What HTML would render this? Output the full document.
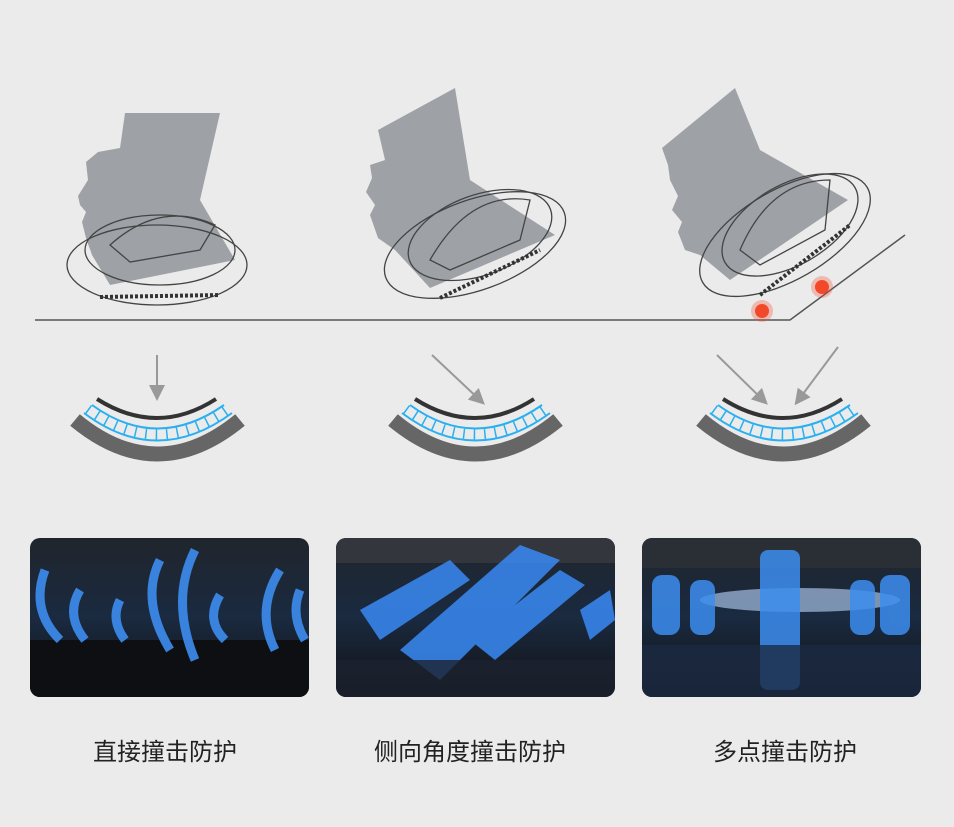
<!DOCTYPE html>
<html><head><meta charset="utf-8"><style>
body{margin:0;background:#ebebeb;width:954px;height:827px;overflow:hidden;font-family:"Liberation Sans","Noto Sans CJK SC",sans-serif}
.l{position:absolute;top:732px;font-size:24px;color:#222;text-align:center;width:300px}
</style></head><body>
<svg width="954" height="827" style="position:absolute;left:0;top:0">
<defs>
<g id="band">
<path d="M75,420 Q157,488 240,420" stroke="#666" stroke-width="15" fill="none"/>
<path d="M88,409 Q157,460 228,409" stroke="#2ab0f0" stroke-width="10" fill="none" stroke-dasharray="1.5 9"/>
<path d="M84,413 Q157,468 232,413" stroke="#2ab0f0" stroke-width="2" fill="none"/>
<path d="M92,405 Q157,452 224,405" stroke="#2ab0f0" stroke-width="2" fill="none"/>
<path d="M97,399 Q157,437 216,399" stroke="#333" stroke-width="4" fill="none"/>
</g>
<marker id="ar" markerWidth="8" markerHeight="8" refX="6" refY="4" orient="auto"><path d="M0,0 L8,4 L0,8 Z" fill="#999"/></marker>
<linearGradient id="pg" x1="0" y1="0" x2="0" y2="1"><stop offset="0" stop-color="#20252c"/><stop offset="0.5" stop-color="#1a2a40"/><stop offset="1" stop-color="#111"/></linearGradient>
<clipPath id="c1"><rect x="30" y="538" width="279" height="159" rx="10"/></clipPath>
<clipPath id="c2"><rect x="336" y="538" width="279" height="159" rx="10"/></clipPath>
<clipPath id="c3"><rect x="642" y="538" width="279" height="159" rx="10"/></clipPath>
</defs>
<!-- heads -->
<path d="M125,113 L220,113 L200,200 L235,260 L110,285 L92,255 L86,238 L82,222 L86,212 L80,205 L78,196 L88,180 L86,162 L98,152 L120,148 Z" fill="#9ea2a7"/>
<path d="M378,130 L455,88 L470,180 L555,235 L430,288 L395,250 L378,238 L370,215 L375,205 L366,192 L372,178 L370,165 L385,160 Z" fill="#9ea2a7"/>
<path d="M662,148 L735,88 L760,150 L848,200 L730,280 L700,255 L685,250 L678,232 L682,222 L672,210 L678,196 L670,180 L668,165 Z" fill="#9ea2a7"/>
<g fill="none" stroke="#444" stroke-width="1.3">
<ellipse cx="157" cy="265" rx="90" ry="40"/><ellipse cx="160" cy="250" rx="75" ry="35"/>
<path d="M110,245 Q160,200 215,225 L200,250 L130,262 Z"/>
<ellipse cx="475" cy="245" rx="95" ry="45" transform="rotate(-20 475 245)"/><ellipse cx="480" cy="235" rx="75" ry="40" transform="rotate(-20 480 235)"/>
<path d="M430,260 Q470,190 530,200 L520,240 L450,270 Z"/>
<ellipse cx="785" cy="235" rx="95" ry="45" transform="rotate(-30 785 235)"/><ellipse cx="790" cy="225" rx="75" ry="40" transform="rotate(-30 790 225)"/>
<path d="M740,250 Q770,180 830,180 L825,230 L760,265 Z"/>
</g>
<path d="M100,297 L220,295" stroke="#333" stroke-width="4" stroke-dasharray="3 2"/>
<path d="M440,298 L540,250" stroke="#333" stroke-width="4" stroke-dasharray="3 2"/>
<path d="M760,295 L850,225" stroke="#333" stroke-width="4" stroke-dasharray="3 2"/>
<path d="M35,320 L790,320 L905,235" stroke="#555" stroke-width="1.5" fill="none"/>
<circle cx="762" cy="311" r="7" fill="#f24a2a"/><circle cx="822" cy="287" r="7" fill="#f24a2a"/>
<circle cx="762" cy="311" r="11" fill="#f24a2a" opacity="0.3"/><circle cx="822" cy="287" r="11" fill="#f24a2a" opacity="0.3"/>
<!-- bands -->
<use href="#band"/>
<use href="#band" transform="translate(318,0)"/>
<use href="#band" transform="translate(626,0)"/>
<path d="M157,355 L157,397" stroke="#999" stroke-width="2" marker-end="url(#ar)"/>
<path d="M432,355 L482,402" stroke="#999" stroke-width="2" marker-end="url(#ar)"/>
<path d="M717,355 L765,402" stroke="#999" stroke-width="2" marker-end="url(#ar)"/>
<path d="M838,347 L797,402" stroke="#999" stroke-width="2" marker-end="url(#ar)"/>
<!-- panels -->
<g clip-path="url(#c1)">
<rect x="30" y="538" width="279" height="159" fill="url(#pg)"/>
<rect x="30" y="640" width="279" height="57" fill="#0d0f12"/>
<g fill="none" stroke="#3d8df0" stroke-width="9" opacity="0.9">
<path d="M45,570 Q30,610 60,640"/><path d="M80,590 Q65,615 85,640"/><path d="M160,560 Q140,600 170,650"/>
<path d="M195,550 Q170,600 195,660"/><path d="M220,595 Q205,620 225,640"/><path d="M280,570 Q255,610 275,650"/><path d="M300,590 Q290,615 305,640"/>
<path d="M120,600 Q110,620 125,640"/>
</g></g>
<g clip-path="url(#c2)">
<rect x="336" y="538" width="279" height="159" fill="url(#pg)"/>
<rect x="336" y="538" width="279" height="25" fill="#33373d"/>
<g fill="#3a8af5" opacity="0.85">
<polygon points="360,610 450,560 470,580 380,640"/><polygon points="400,650 520,545 560,560 440,680"/>
<polygon points="470,640 560,570 585,585 495,660"/><polygon points="580,610 610,590 615,620 590,640"/>
</g>
<rect x="336" y="660" width="279" height="37" fill="#1c2230" opacity="0.8"/>
</g>
<g clip-path="url(#c3)">
<rect x="642" y="538" width="279" height="159" fill="url(#pg)"/>
<rect x="642" y="538" width="279" height="30" fill="#2a2e35"/>
<ellipse cx="800" cy="600" rx="100" ry="12" fill="#bcd8ff" opacity="0.6"/>
<g fill="#3d8df0" opacity="0.85">
<rect x="652" y="575" width="28" height="60" rx="10"/><rect x="690" y="580" width="25" height="55" rx="10"/>
<rect x="760" y="550" width="40" height="140" rx="8"/><rect x="850" y="580" width="25" height="55" rx="10"/>
<rect x="880" y="575" width="30" height="60" rx="10"/>
</g>
<rect x="642" y="645" width="279" height="52" fill="#1b2a44" opacity="0.8"/>
</g>
</svg>
<div class="l" style="left:15px">直接撞击防护</div>
<div class="l" style="left:320px">侧向角度撞击防护</div>
<div class="l" style="left:635px">多点撞击防护</div>
</body></html>
